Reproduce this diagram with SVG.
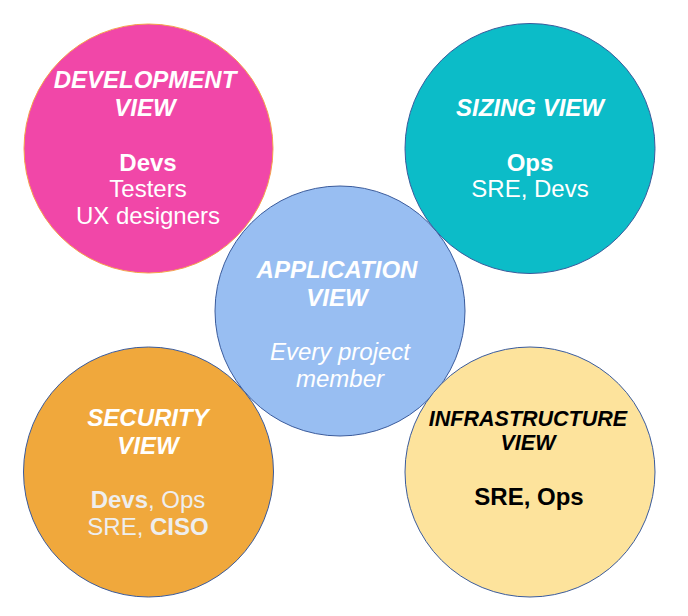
<svg xmlns="http://www.w3.org/2000/svg" width="688" height="616" viewBox="0 0 688 616">
<style>
text{font-family:"Liberation Sans",Arial,sans-serif;text-anchor:middle;font-size:24px;}
.t{font-weight:bold;font-style:italic;fill:#ffffff;}
.b{font-weight:bold;}
.w{fill:#ffffff;}
.g{fill:#eeeeee;}
.k{fill:#000000;}
.s{font-size:21.5px;font-weight:bold;font-style:italic;}
circle{stroke:#3a5b9c;stroke-width:1;}
</style>
<rect width="688" height="616" fill="#ffffff"/>
<g id="connectors"></g>
<g id="development">
<circle cx="148.5" cy="148.5" r="124.5" fill="#f147a8" style="stroke:#f5a34a"/>
<text class="t" x="145" y="88">DEVELOPMENT</text>
<text class="t" x="145" y="116">VIEW</text>
<text class="w b" x="148" y="171">Devs</text>
<text class="w" x="148" y="197">Testers</text>
<text class="w" x="148" y="224">UX designers</text>
</g>
<g id="sizing">
<circle cx="530" cy="148.5" r="125" fill="#0cbcc8"/>
<text class="t" x="530" y="116">SIZING VIEW</text>
<text class="w b" x="530" y="171">Ops</text>
<text class="w" x="530" y="197">SRE, Devs</text>
</g>
<g id="application">
<circle cx="340" cy="311" r="125" fill="#98bef2"/>
<text class="t" x="337" y="278">APPLICATION</text>
<text class="t" x="337" y="306">VIEW</text>
<text class="w" font-style="italic" x="340" y="360">Every project</text>
<text class="w" font-style="italic" x="340" y="387">member</text>
</g>
<g id="security">
<circle cx="148.5" cy="472" r="125" fill="#f0a83c"/>
<text class="t" x="148" y="426">SECURITY</text>
<text class="t" x="148" y="454">VIEW</text>
<text class="g" x="148" y="508"><tspan class="b">Devs</tspan>, Ops</text>
<text class="g" x="148" y="535">SRE, <tspan class="b">CISO</tspan></text>
</g>
<g id="infrastructure">
<circle cx="530" cy="472" r="125" fill="#fde39c"/>
<text class="k s" x="528" y="426">INFRASTRUCTURE</text>
<text class="k s" x="528" y="450">VIEW</text>
<text class="k b" x="529" y="505">SRE, Ops</text>
</g>
</svg>
